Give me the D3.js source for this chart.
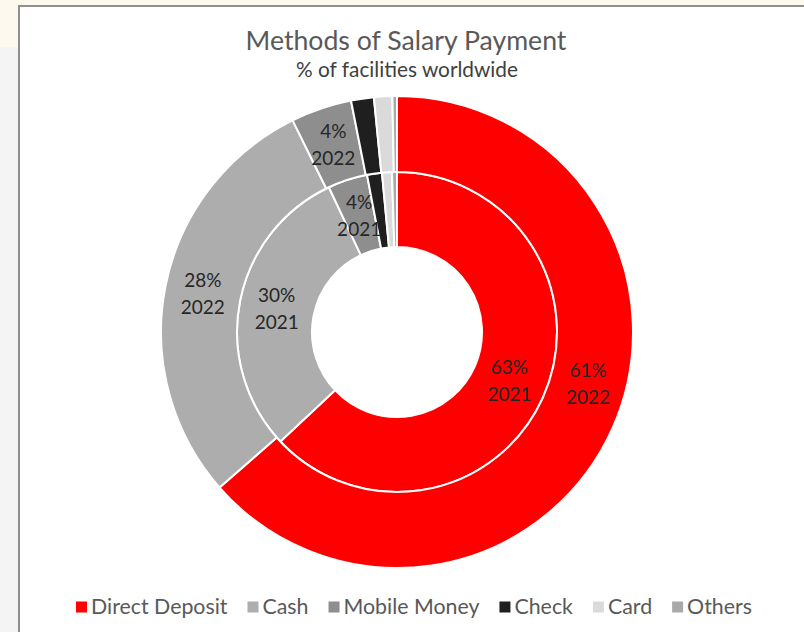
<!DOCTYPE html>
<html>
<head>
<meta charset="utf-8">
<script src="https://cdn.jsdelivr.net/npm/d3@7/dist/d3.min.js"></script>
<style>
  html, body { margin: 0; padding: 0; background: #f4f4f4; }
  svg { display: block; }
  text { font-family: Lato, "Open Sans", sans-serif; }
</style>
</head>
<body>
<svg id="chart" width="804" height="632"></svg>
<script>
// Salary payment methods, share of facilities (%)
const categories = ["Direct Deposit", "Cash", "Mobile Money", "Check", "Card", "Others"];
const years = ["2021", "2022"];
const values2021 = [63, 30, 4, 1.5, 1, 0.5];
const values2022 = [61, 28, 4, 1.5, 1.2, 0.3];
const colors = ["#ff0000", "#adadad", "#8e8e8e", "#1f1f1f", "#dadada", "#a9a9a9"];
const titleText = "Methods of Salary Payment";
const subtitleText = "% of facilities worldwide";

const W = 804, H = 632;
const svg = d3.select("#chart");

// page backdrop and chart frame
svg.append("rect").attr("x", 0).attr("y", 0).attr("width", W).attr("height", H).attr("fill", "#f4f4f4");
svg.append("rect").attr("x", 0).attr("y", 0).attr("width", W).attr("height", 47).attr("fill", "#fdf9ef");
svg.append("rect").attr("x", 19).attr("y", 6).attr("width", W).attr("height", H)
  .attr("fill", "#ffffff").attr("stroke", "#8f8f8f").attr("stroke-width", 2);

// shrink or grow a text element so it spans the given width
function fitWidth(sel, target) {
  const node = sel.node();
  const fs = parseFloat(sel.attr("font-size"));
  const w = node.getComputedTextLength();
  sel.attr("font-size", (fs * target / w).toFixed(2));
}

const title = svg.append("text").attr("x", 406).attr("y", 50)
  .attr("text-anchor", "middle").attr("font-size", 24).attr("fill", "#595959")
  .text(titleText);
fitWidth(title, 321);

const subtitle = svg.append("text").attr("x", 407).attr("y", 77)
  .attr("text-anchor", "middle").attr("font-size", 16).attr("fill", "#404040")
  .text(subtitleText);
fitWidth(subtitle, 222);

// doughnut rings: 2021 inside, 2022 outside
const cx = 397, cy = 332;
const rHole = 85, rMid = 160, rOuter = 236;
const ringSpec = [
  { year: years[0], values: values2021, r0: rHole, r1: rMid },
  { year: years[1], values: values2022, r0: rMid, r1: rOuter }
];

const color = d3.scaleOrdinal().domain(categories).range(colors);
const pie = d3.pie().sort(null).value(d => d.v).startAngle(0).endAngle(2 * Math.PI);

const g = svg.append("g").attr("transform", `translate(${cx},${cy})`);

// label angle adjustments (radians) where the placement sits off the centroid
const labelShift = { "2022|Direct Deposit": -0.16 };

ringSpec.forEach(ring => {
  const data = categories.map((c, i) => ({ cat: c, v: ring.values[i], year: ring.year }));
  const arcs = pie(data);
  const arc = d3.arc().innerRadius(ring.r0).outerRadius(ring.r1);

  g.append("g").selectAll("path").data(arcs).join("path")
    .attr("d", arc)
    .attr("fill", d => color(d.data.cat))
    .attr("stroke", "#ffffff")
    .attr("stroke-width", 2)
    .attr("stroke-linejoin", "round");

  const rl = (ring.r0 + ring.r1) / 2;
  g.append("g").selectAll("text").data(arcs.filter(d => d.data.v >= 4)).join("text")
    .attr("text-anchor", "middle")
    .attr("font-size", 19)
    .attr("fill", "#262626")
    .each(function (d) {
      const a = (d.startAngle + d.endAngle) / 2 + (labelShift[d.data.year + "|" + d.data.cat] || 0);
      const x = rl * Math.sin(a), y = -rl * Math.cos(a);
      const t = d3.select(this);
      t.append("tspan").attr("x", x).attr("y", y - 13.5).attr("dy", "0.35em")
        .text(d3.format(".0f")(d.data.v) + "%");
      t.append("tspan").attr("x", x).attr("y", y + 13.5).attr("dy", "0.35em")
        .text(d.data.year);
    });
});

// legend along the bottom, scaled to span the chart width
const legendLeft = 76, legendRight = 752, gap = 20, marker = 11;
const legend = svg.append("g");
const items = legend.selectAll("g").data(categories).join("g");
items.append("rect").attr("width", marker).attr("height", marker).attr("y", -marker / 2)
  .attr("fill", d => color(d));
const labels = items.append("text").attr("x", marker + 4).attr("dy", "0.35em")
  .attr("font-size", 17).attr("fill", "#595959").text(d => d);

let textTotal = 0;
labels.each(function () { textTotal += this.getComputedTextLength(); });
const fixed = categories.length * (marker + 4) + (categories.length - 1) * gap;
const fs = 17 * (legendRight - legendLeft - fixed) / textTotal;
labels.attr("font-size", fs.toFixed(2));

let xPos = legendLeft;
items.each(function () {
  const w = marker + 4 + d3.select(this).select("text").node().getComputedTextLength();
  d3.select(this).attr("transform", `translate(${xPos},607)`);
  xPos += w + gap;
});
</script>
</body>
</html>
